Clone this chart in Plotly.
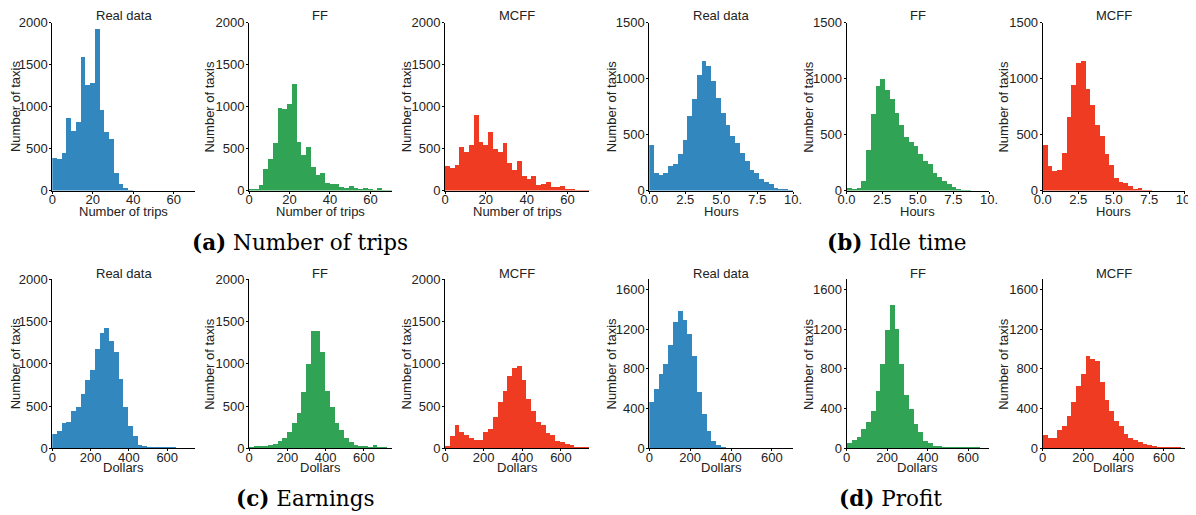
import numpy as np
import plotly.graph_objects as go

# ---------------- data (counts per histogram bin) ----------------
panel_titles = ["Real data", "FF", "MCFF"]

trips_real = [390, 380, 450, 870, 720, 820, 1590, 1260, 1290, 1930, 970, 700, 620, 210, 80, 40, 5, 0, 0, 0, 0, 0, 0, 0, 0, 0, 0, 0, 0, 0]
trips_ff = [30, 30, 70, 260, 380, 570, 990, 980, 1040, 1280, 590, 430, 520, 290, 190, 220, 100, 80, 90, 50, 40, 60, 40, 30, 40, 20, 10, 40, 10, 10]
trips_mcff = [300, 270, 310, 520, 460, 550, 900, 580, 550, 700, 500, 460, 570, 330, 250, 360, 180, 140, 180, 70, 80, 110, 50, 50, 60, 20, 20, 10, 10, 10]

idle_real = [410, 160, 140, 160, 220, 240, 330, 460, 670, 820, 1040, 1160, 1120, 980, 830, 700, 590, 490, 430, 340, 270, 190, 160, 110, 80, 60, 30, 20, 15, 5]
idle_ff = [30, 20, 30, 90, 370, 690, 940, 1000, 900, 820, 700, 590, 480, 440, 400, 330, 270, 240, 160, 130, 90, 60, 40, 20, 10, 5, 0, 0, 0, 0]
idle_mcff = [410, 220, 180, 190, 340, 660, 950, 1140, 1160, 910, 770, 590, 490, 330, 230, 120, 80, 70, 50, 20, 30, 5, 12, 0, 0, 0, 0, 0, 0, 0]

earn_real = [170, 200, 300, 310, 440, 480, 640, 800, 920, 1170, 1360, 1420, 1270, 1140, 820, 480, 260, 140, 30, 20, 5, 3, 2, 1, 1, 1, 0, 0, 0, 0]
earn_ff = [5, 15, 20, 25, 35, 50, 80, 120, 190, 290, 420, 660, 1000, 1380, 1390, 1140, 680, 480, 300, 210, 120, 70, 40, 25, 15, 10, 30, 5, 5, 0]
earn_mcff = [20, 140, 270, 190, 150, 120, 90, 100, 190, 230, 370, 540, 680, 850, 950, 970, 810, 580, 440, 310, 270, 180, 150, 80, 70, 50, 30, 10, 10, 5]

profit_real = [460, 590, 740, 840, 1040, 1270, 1380, 1290, 1150, 930, 560, 340, 170, 70, 30, 10, 0, 0, 0, 0, 0, 0, 0, 0, 0, 0, 0, 0, 0, 0]
profit_ff = [50, 80, 110, 190, 260, 370, 570, 850, 1190, 1440, 1200, 840, 530, 390, 240, 160, 70, 50, 15, 15, 10, 10, 5, 5, 3, 2, 1, 1, 0, 0]
profit_mcff = [130, 100, 100, 180, 220, 320, 460, 620, 740, 930, 900, 880, 660, 480, 370, 270, 220, 140, 100, 80, 60, 45, 35, 15, 10, 5, 3, 3, 1, 0]

# bin widths of each metric (bins start at 0)
bin_width = {"trips": 2.35, "idle": 1 / 3, "earn": 24.8, "profit": 23.5}

x_titles = {"trips": "Number of trips", "idle": "Hours", "earn": "Dollars", "profit": "Dollars"}
x_ranges = {"trips": [0, 70.5], "idle": [0, 10.02], "earn": [0, 745], "profit": [0, 705]}
x_tickvals = {"trips": [0, 20, 40, 60], "idle": [0, 2.5, 5, 7.5, 10], "earn": [0, 200, 400, 600], "profit": [0, 200, 400, 600]}
x_ticktext = {"trips": ["0", "20", "40", "60"], "idle": ["0.0", "2.5", "5.0", "7.5", "10."],
              "earn": ["0", "200", "400", "600"], "profit": ["0", "200", "400", "600"]}
y_ranges = {"trips": [0, 2000], "idle": [0, 1500], "earn": [0, 2000], "profit": [0, 1700]}
y_tickvals = {"trips": [0, 500, 1000, 1500, 2000], "idle": [0, 500, 1000, 1500],
              "earn": [0, 500, 1000, 1500, 2000], "profit": [0, 400, 800, 1200, 1600]}

captions = ["<b>(a)</b> Number of trips", "<b>(b)</b> Idle time", "<b>(c)</b> Earnings", "<b>(d)</b> Profit"]

colors = ["#3187be", "#31a354", "#ef3b22"]

# ---------------- layout helpers ----------------
OFF = 8  # default page margin of the html body
W, H = 1196 - OFF, 515 - OFF
def fx(p):
    return (p - OFF) / W
def fy(p):
    return 1 - (p - OFF) / H

col_px = [(52.3, 195.0), (249.0, 391.7), (445.0, 589.0), (649.3, 793.3), (846.5, 989.3), (1042.7, 1185.0)]
row_px = [(22.5, 190.6), (279.3, 448.3)]
ytitle_x = [15.5, 210, 406.7, 611.7, 808.3, 1004]
title_y = [15.7, 273.3]
xtitle_y = [211, 467]

panels = [
    ("trips", 0, [trips_real, trips_ff, trips_mcff]),
    ("idle", 0, [idle_real, idle_ff, idle_mcff]),
    ("earn", 1, [earn_real, earn_ff, earn_mcff]),
    ("profit", 1, [profit_real, profit_ff, profit_mcff]),
]

font_family = "Liberation Sans, Arial, Helvetica, sans-serif"
fig = go.Figure()
layout = {}
annotations = []
k = 0
for metric, row, series in panels:
    block = 0 if metric in ("trips", "earn") else 1
    for j, counts in enumerate(series):
        k += 1
        col = block * 3 + j
        counts = np.asarray(counts, dtype=float)
        w = bin_width[metric]
        edges = np.arange(len(counts) + 1) * w
        centers = (edges[:-1] + edges[1:]) / 2
        xa = "x" if k == 1 else f"x{k}"
        ya = "y" if k == 1 else f"y{k}"
        fig.add_trace(go.Bar(x=centers, y=counts, width=w, marker=dict(color=colors[j], line=dict(width=0)),
                             xaxis=xa, yaxis=ya, showlegend=False, hoverinfo="x+y"))
        x0, x1 = col_px[col]
        y0, y1 = row_px[row]
        common = dict(showgrid=False, zeroline=False, showline=True, linecolor="black", linewidth=1,
                      ticks="outside", ticklen=2, tickwidth=1, tickcolor="black", automargin=False,
                      ticklabeloverflow="allow",
                      tickfont=dict(family=font_family, size=13, color="#222"))
        layout["xaxis" if k == 1 else f"xaxis{k}"] = dict(
            domain=[fx(x0), fx(x1)], anchor=ya, range=x_ranges[metric], ticklabelstandoff=-5,
            tickmode="array", tickvals=x_tickvals[metric], ticktext=x_ticktext[metric], **common)
        layout["yaxis" if k == 1 else f"yaxis{k}"] = dict(
            domain=[fy(y1), fy(y0)], anchor=xa, range=y_ranges[metric], ticklabelstandoff=-1,
            tickmode="array", tickvals=y_tickvals[metric], **common)
        cx = (x0 + x1) / 2
        annotations.append(dict(text=panel_titles[j], x=fx(cx), y=fy(title_y[row]), xref="paper", yref="paper",
                                showarrow=False, xanchor="center", yanchor="middle",
                                font=dict(family=font_family, size=13, color="#222")))
        annotations.append(dict(text=x_titles[metric], x=fx(cx), y=fy(xtitle_y[row]), xref="paper", yref="paper",
                                showarrow=False, xanchor="center", yanchor="middle",
                                font=dict(family=font_family, size=13, color="#222")))
        annotations.append(dict(text="Number of taxis", x=fx(ytitle_x[col]), y=fy((y0 + y1) / 2),
                                xref="paper", yref="paper", showarrow=False, textangle=-90,
                                xanchor="center", yanchor="middle",
                                font=dict(family=font_family, size=13, color="#222")))

caption_pos = [(300, 243), (897, 243), (305, 498), (890, 498)]
for cap, (cx, cy) in zip(captions, caption_pos):
    annotations.append(dict(text=cap, x=fx(cx), y=fy(cy), xref="paper", yref="paper", showarrow=False,
                            xanchor="center", yanchor="middle",
                            font=dict(family="DejaVu Serif, Liberation Serif, serif", size=21.5, color="black")))

fig.update_layout(**layout)
fig.update_layout(annotations=annotations, width=W, height=H, margin=dict(l=0, r=0, t=0, b=0, autoexpand=False),
                  paper_bgcolor="white", plot_bgcolor="white", bargap=0)
fig.write_html("out.html")
